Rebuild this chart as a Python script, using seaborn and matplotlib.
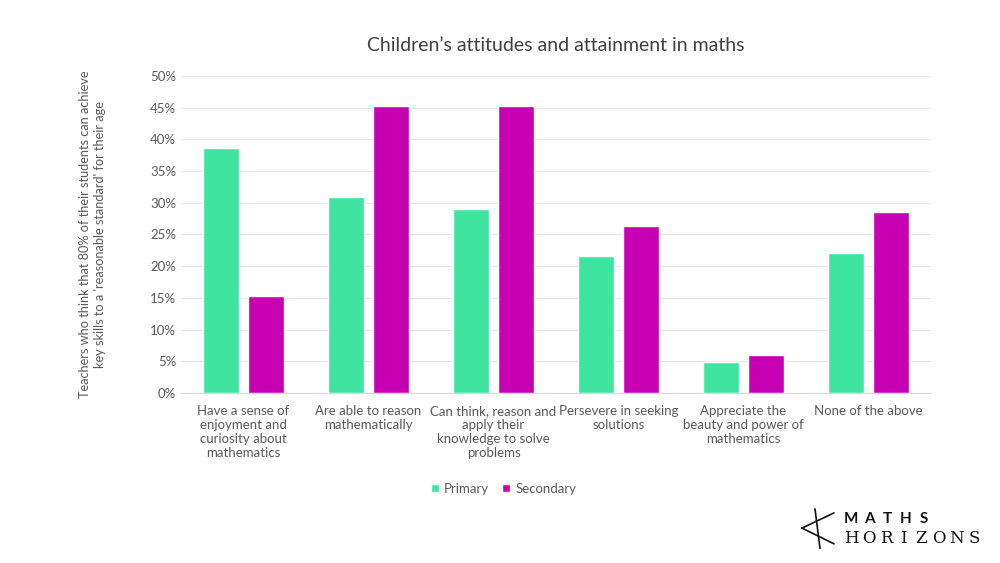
import matplotlib
matplotlib.use('Agg')
import matplotlib.pyplot as plt
import pandas as pd
import seaborn as sns
from matplotlib.ticker import PercentFormatter

categories = [
    'Have a sense of\nenjoyment and\ncuriosity about\nmathematics',
    'Are able to reason\nmathematically',
    'Can think, reason and\napply their\nknowledge to solve\nproblems',
    'Persevere in seeking\nsolutions',
    'Appreciate the\nbeauty and power of\nmathematics',
    'None of the above',
]
primary = [0.386, 0.309, 0.290, 0.216, 0.049, 0.221]
secondary = [0.153, 0.453, 0.453, 0.263, 0.060, 0.285]
series = ['Primary', 'Secondary']
colors = ['#3fe4a0', '#c800b4']

df = pd.DataFrame({
    'category': categories * 2,
    'value': primary + secondary,
    'group': ['Primary'] * len(categories) + ['Secondary'] * len(categories),
})

sns.set_style('white')
plt.rcParams['font.family'] = ['Lato', 'DejaVu Sans']

fig = plt.figure(figsize=(10, 5.63), dpi=100)
ax = fig.add_axes([0.181, 0.302, 0.75, 0.563])

sns.barplot(data=df, x='category', y='value', hue='group', hue_order=series,
            palette=colors, width=0.73, gap=0.21, saturation=1, ax=ax)

ax.set_ylim(0, 0.5)
ax.set_yticks([i * 0.05 for i in range(11)])
ax.yaxis.set_major_formatter(PercentFormatter(1.0, decimals=0))
ax.grid(axis='y', color='#e6e6e6', linewidth=0.8)
ax.set_axisbelow(True)
for s in ['top', 'right', 'left']:
    ax.spines[s].set_visible(False)
ax.spines['bottom'].set_color('#d9d9d9')
ax.tick_params(axis='both', length=0, colors='#595959', labelsize=9.5)
ax.tick_params(axis='x', pad=9)
ax.set_xticks(range(len(categories)))
ax.set_xticklabels(categories, linespacing=1.2)
ax.set_xlabel('')
ax.set_ylabel("Teachers who think that 80% of their students can achieve\n"
              "key skills to a 'reasonable standard' for their age",
              fontsize=9.2, color='#595959', linespacing=1.25)
ax.yaxis.set_label_coords(-0.1, 0.5)

ax.set_title("Children’s attitudes and attainment in maths",
             fontsize=14, color='#404040', pad=18)

ax.legend(loc='upper center', bbox_to_anchor=(0.43, -0.245), ncol=2, frameon=False,
          fontsize=9.5, handlelength=0.6, handleheight=0.6, handletextpad=0.4,
          columnspacing=1.0, labelcolor='#595959')

# logo
for i, ch in enumerate('MATHS'):
    fig.text(0.851 + i * 0.0182, 0.078, ch, fontsize=11, fontweight='bold',
             color='#111111', ha='center', va='center')
for i, ch in enumerate('HORIZONS'):
    fig.text(0.851 + i * 0.0176, 0.044, ch, fontsize=12, family='DejaVu Serif',
             color='#111111', ha='center', va='center')
logo_lines = [
    ([0.802, 0.834], [0.062, 0.089]),
    ([0.802, 0.834], [0.062, 0.034]),
    ([0.815, 0.820], [0.096, 0.026]),
]
for xs, ys in logo_lines:
    fig.lines.append(plt.Line2D(xs, ys, transform=fig.transFigure,
                                color='#111111', lw=1.2))

fig.savefig('out.png', dpi=100)
